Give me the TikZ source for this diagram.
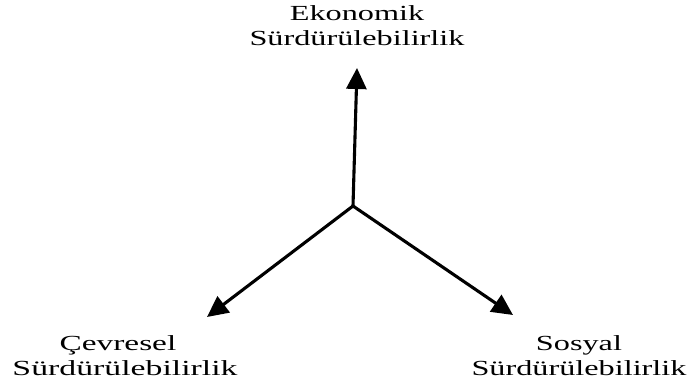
\documentclass[tikz,border=0pt]{standalone}
\usepackage{fontspec}
\usepackage{graphicx}
\setmainfont{Liberation Serif}
\usetikzlibrary{arrows.meta}
\newcommand\hstr[2][1.5]{\scalebox{#1}[1]{#2}}
\begin{document}
\begin{tikzpicture}[x=1pt,y=-1pt,
  lbl/.style={anchor=base,inner sep=0pt,font=\fontsize{21.5}{21.5}\selectfont},
  arr/.style={line width=3.1pt,-{Triangle[length=21pt,width=20pt]}}]
\useasboundingbox (0,0) rectangle (689,387);
\node[lbl] (e1) at (357,21) {\hstr{Ekonomik}};
\node[lbl] (e2) at (357,45.5) {\hstr{Sürdürülebilirlik}};
\node[lbl] (c1) at (118,351) {\hstr[1.55]{Çevresel}};
\node[lbl] (c2) at (125,376) {\hstr[1.57]{Sürdürülebilirlik}};
\node[lbl] (s1) at (579,351) {\hstr{Sosyal}};
\node[lbl] (s2) at (579,376) {\hstr{Sürdürülebilirlik}};
\coordinate (o) at (353,206);
\coordinate (te) at (357,68);
\coordinate (tc) at (207,317);
\coordinate (ts) at (513,315);
\draw[arr] (o) -- (te);
\draw[arr] (o) -- (tc);
\draw[arr] (o) -- (ts);
\end{tikzpicture}
\end{document}
